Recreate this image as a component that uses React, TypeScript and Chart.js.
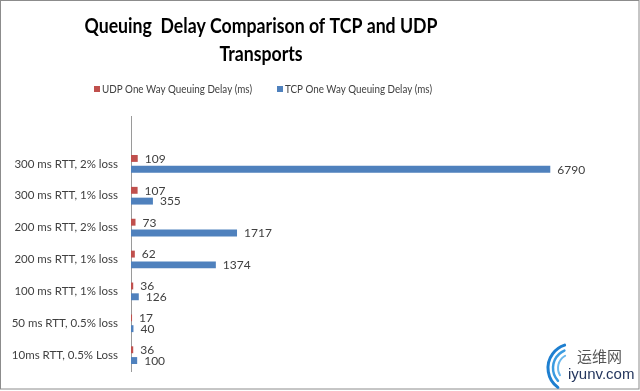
import React, { useEffect, useRef } from "react";
import { Chart, registerables } from "chart.js";
Chart.register(...registerables);

const categories = [
  "",
  "300 ms RTT, 2% loss",
  "300 ms RTT, 1% loss",
  "200 ms RTT, 2% loss",
  "200 ms RTT, 1% loss",
  "100 ms RTT, 1% loss",
  "50 ms RTT, 0.5% loss",
  "10ms RTT, 0.5% Loss",
];
const udpDelay = [null, 109, 107, 73, 62, 36, 17, 36];
const tcpDelay = [null, 6790, 355, 1717, 1374, 126, 40, 100];
const seriesNames = ["UDP One Way Queuing Delay (ms)", "TCP One Way Queuing Delay (ms)"];
const titleLines = ["Queuing  Delay Comparison of TCP and UDP", "Transports"];
const xMax = 8000;

const RED = "#C0504D";
const BLUE = "#4F81BD";
const FONT = "Lato, 'Open Sans', sans-serif";
const TEXT = "#404040";

const decorPlugin = {
  id: "decor",
  beforeDraw(chart: any) {
    const ctx = chart.ctx;
    ctx.save();
    ctx.fillStyle = "#ffffff";
    ctx.fillRect(0, 0, chart.width, chart.height);
    ctx.restore();
  },
  afterDraw(chart: any) {
    const ctx = chart.ctx;
    ctx.save();
    // title (horizontally condensed to mimic Calibri)
    ctx.fillStyle = "#000000";
    ctx.font = `bold 20.5px ${FONT}`;
    ctx.textAlign = "center";
    ctx.textBaseline = "alphabetic";
    const w0 = ctx.measureText(titleLines[0]).width;
    const sx = 353 / w0;
    ctx.save();
    ctx.translate(261, 0);
    ctx.scale(sx, 1);
    ctx.fillText(titleLines[0], 0, 33);
    ctx.fillText(titleLines[1], 0, 61);
    ctx.restore();
    // legend
    ctx.font = `11px ${FONT}`;
    ctx.textAlign = "left";
    ctx.textBaseline = "middle";
    const legendX = [94, 277];
    const legendW = [150, 147];
    chart.data.datasets.forEach((ds: any, i: number) => {
      ctx.fillStyle = ds.backgroundColor;
      ctx.fillRect(legendX[i], 86, 6, 6);
      ctx.fillStyle = TEXT;
      ctx.fillText(ds.label, legendX[i] + 8, 89.5, legendW[i]);
    });
    // value labels
    ctx.font = `12px ${FONT}`;
    ctx.fillStyle = TEXT;
    chart.data.datasets.forEach((ds: any, i: number) => {
      const meta = chart.getDatasetMeta(i);
      meta.data.forEach((el: any, j: number) => {
        const v = ds.data[j];
        if (v === null || v === undefined) return;
        ctx.fillText(String(v), el.x + 7, el.y + 0.5);
      });
    });
    // border
    ctx.strokeStyle = "#8c8c8c";
    ctx.lineWidth = 1;
    ctx.strokeRect(0.5, 0.5, 638.5, 388.5);
    // watermark
    ctx.lineCap = "round";
    const cx = 572, cy = 368;
    const arcs = [
      { r: 24, w: 3, a0: 2.2, a1: 4.4, c: "#1e7fd0" },
      { r: 19, w: 2.5, a0: 2.4, a1: 4.3, c: "#3a9be0" },
      { r: 14, w: 2, a0: 2.6, a1: 4.2, c: "#6bb8ec" },
    ];
    arcs.forEach((a) => {
      ctx.beginPath();
      ctx.strokeStyle = a.c;
      ctx.lineWidth = a.w;
      ctx.arc(cx, cy, a.r, a.a0, a.a1);
      ctx.stroke();
    });
    ctx.fillStyle = "#555555";
    ctx.font = `15px 'Noto Sans CJK SC', sans-serif`;
    ctx.textAlign = "left";
    ctx.textBaseline = "middle";
    ctx.fillText("运维网", 577, 356);
    ctx.fillStyle = "#24365e";
    ctx.font = `15px 'Liberation Sans', sans-serif`;
    ctx.fillText("iyunv.com", 568, 375);
    ctx.restore();
  },
};

export default function App() {
  const ref = useRef<HTMLCanvasElement | null>(null);
  useEffect(() => {
    document.body.style.margin = "0";
    if (!ref.current) return;
    const chart = new Chart(ref.current, {
      type: "bar",
      data: {
        labels: categories,
        datasets: [
          { label: seriesNames[0], data: udpDelay, backgroundColor: RED, borderWidth: 0 },
          { label: seriesNames[1], data: tcpDelay, backgroundColor: BLUE, borderWidth: 0 },
        ],
      },
      options: {
        indexAxis: "y",
        animation: false,
        responsive: false,
        devicePixelRatio: 1,
        layout: { padding: { top: 116, bottom: 15, right: 15, left: 0 } },
        datasets: { bar: { categoryPercentage: 0.677, barPercentage: 0.64 } },
        plugins: {
          legend: { display: false },
          title: { display: false },
          tooltip: { enabled: false },
        },
        scales: {
          x: { display: false, min: 0, max: xMax },
          y: {
            afterFit: (scale: any) => {
              scale.width = 131;
            },
            grid: { display: false, drawTicks: false },
            border: { display: true, color: "#9a9a9a", width: 1 },
            ticks: {
              padding: 13,
              color: TEXT,
              font: { family: FONT, size: 11.5 },
              autoSkip: false,
            },
          },
        },
      },
      plugins: [decorPlugin],
    });
    return () => chart.destroy();
  }, []);
  return (
    <div style={{ width: 640, height: 391 }}>
      <canvas ref={ref} width={640} height={391} style={{ display: "block" }} />
    </div>
  );
}
